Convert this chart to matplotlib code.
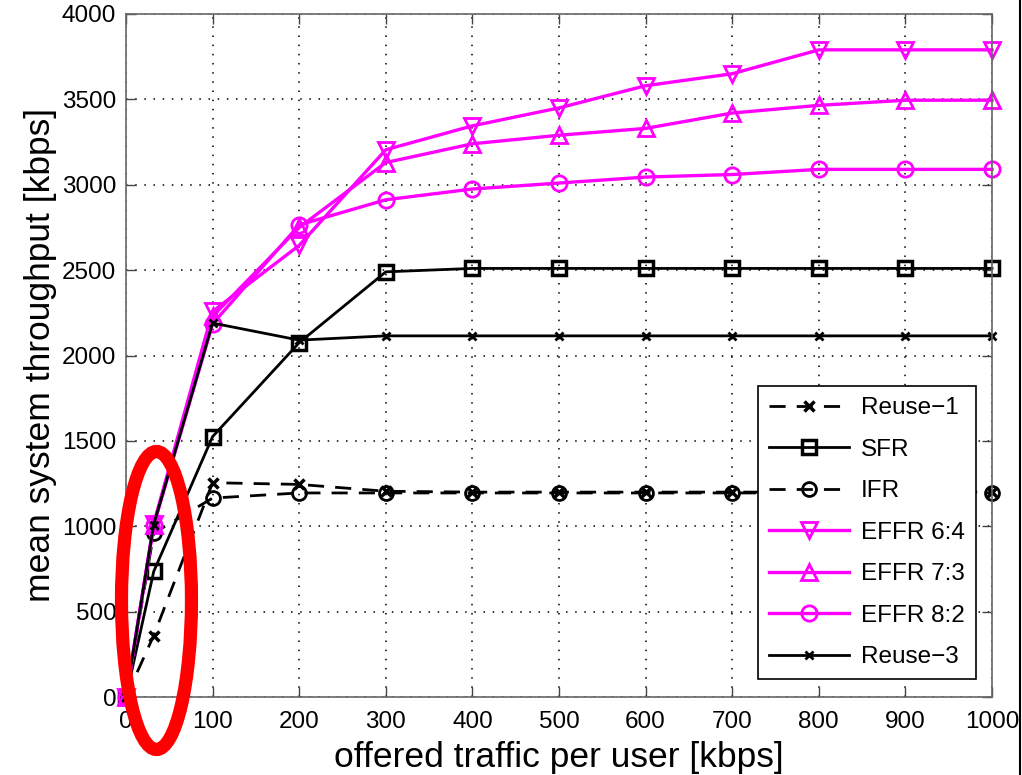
import matplotlib
matplotlib.use("Agg")
import matplotlib.pyplot as plt
from matplotlib.patches import Ellipse
from matplotlib.lines import Line2D

x = [0, 32, 100, 200, 300, 400, 500, 600, 700, 800, 900, 1000]
reuse1 = [0, 360, 1255, 1245, 1205, 1200, 1200, 1200, 1200, 1200, 1200, 1200]
sfr = [0, 735, 1525, 2075, 2490, 2510, 2510, 2510, 2510, 2510, 2510, 2510]
ifr = [0, 960, 1165, 1195, 1195, 1195, 1195, 1195, 1195, 1195, 1195, 1195]
effr64 = [0, 1015, 2258, 2645, 3205, 3345, 3450, 3580, 3650, 3790, 3790, 3790]
effr73 = [0, 1010, 2230, 2750, 3130, 3240, 3290, 3330, 3420, 3465, 3495, 3495]
effr82 = [0, 1005, 2185, 2765, 2912, 2975, 3010, 3045, 3060, 3090, 3090, 3090]
reuse3 = [0, 1010, 2190, 2090, 2115, 2115, 2115, 2115, 2115, 2115, 2115, 2115]

xticks = [0, 100, 200, 300, 400, 500, 600, 700, 800, 900, 1000]
yticks = [0, 500, 1000, 1500, 2000, 2500, 3000, 3500, 4000]

plt.rcParams['font.family'] = ['Liberation Sans', 'DejaVu Sans']

fig = plt.figure(figsize=(10.22, 7.75), dpi=100)
ax = fig.add_axes([126/1022, 78/775, 866/1022, 683/775])

MAG = '#ff00ff'
dash = (0, (5.8, 4.0))
ax.plot(x, reuse1, color='k', lw=2, linestyle=dash, marker='x', ms=7, mew=2.5,
        label='Reuse\u22121', clip_on=False)
ax.plot(x, sfr, color='k', lw=2, marker='s', ms=10, mew=2.5, mfc='none',
        label='SFR', clip_on=False)
ax.plot(x, ifr, color='k', lw=2, linestyle=dash, marker='o', ms=10, mew=2, mfc='none',
        label='IFR', clip_on=False)
ax.plot(x, effr64, color=MAG, lw=2.4, marker='v', ms=11, mew=2, mfc='none',
        label='EFFR 6:4', clip_on=False)
ax.plot(x, effr73, color=MAG, lw=2.4, marker='^', ms=11, mew=2, mfc='none',
        label='EFFR 7:3', clip_on=False)
ax.plot(x, effr82, color=MAG, lw=2.4, marker='o', ms=11, mew=2, mfc='none',
        label='EFFR 8:2', clip_on=False)
ax.plot(x, reuse3, color='k', lw=2, marker='x', ms=6, mew=2,
        label='Reuse\u22123', clip_on=False)

ax.set_xlim(0, 1000)
ax.set_ylim(0, 4000)
ax.set_xticks(xticks)
ax.set_yticks(yticks)
ax.tick_params(axis='both', direction='in', length=7, width=1, labelsize=17.5,
               top=True, right=True, color='#444444')
ax.tick_params(axis='x', pad=10)
ax.tick_params(axis='y', pad=7)
for s in ax.spines.values():
    s.set_color('#666666')
    s.set_linewidth(1.2)
ax.grid(True, color='k', linestyle=(0, (1, 5)), linewidth=1.1)
ax.set_axisbelow(True)

ax.set_xlabel('offered traffic per user [kbps]', fontsize=25.5)
ax.set_ylabel('mean system throughput [kbps]', fontsize=25.5)
ax.xaxis.set_label_coords(0.5, -0.064)
ax.yaxis.set_label_coords(-0.08, 0.5)

leg = ax.legend(loc='lower right', bbox_to_anchor=(0.9815, 0.0264), fontsize=17.5,
                frameon=True, fancybox=False, edgecolor='k', framealpha=1,
                handlelength=3.3, handletextpad=0.5, labelspacing=0.8,
                borderpad=0.45, borderaxespad=0)
leg.get_frame().set_linewidth(1.2)

ell = Ellipse((0.0352, 0.1413), 0.0808, 0.4363, transform=ax.transAxes,
              fill=False, edgecolor='#ff0000', linewidth=9.5, clip_on=False, zorder=10)
ax.add_patch(ell)

fig.add_artist(Line2D([1020/1022, 1020/1022], [0, 1], color='k', lw=1.5,
                      transform=fig.transFigure))

fig.savefig('out.png', dpi=100)
